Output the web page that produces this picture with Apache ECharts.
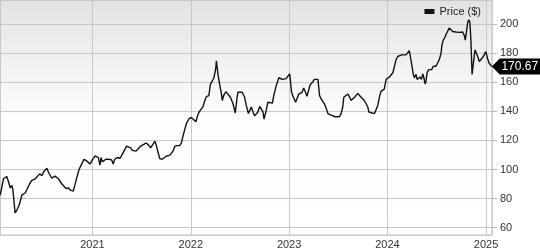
<!DOCTYPE html>
<html>
<head>
<meta charset="utf-8">
<script src="https://cdn.jsdelivr.net/npm/echarts@6/dist/echarts.min.js"></script>
<style>
html,body{margin:0;padding:0;background:#fff;}
#chart{width:540px;height:250px;}
</style>
</head>
<body>
<div id="chart"></div>
<script>
const seriesName = 'Price ($)';
const dates = [
'2020-01-25','2020-01-31','2020-02-06','2020-02-18','2020-02-25','2020-03-02','2020-03-08','2020-03-12','2020-03-20','2020-03-27',
'2020-04-02','2020-04-08','2020-04-14','2020-04-20','2020-04-27','2020-05-03','2020-05-13','2020-05-21','2020-06-03','2020-06-09',
'2020-06-19','2020-06-28','2020-07-04','2020-07-10','2020-07-16','2020-07-22','2020-08-03','2020-08-15','2020-08-28','2020-09-09',
'2020-09-15','2020-09-25','2020-10-04','2020-10-12','2020-10-22','2020-10-28','2020-11-06','2020-11-13','2020-11-22','2020-12-01',
'2020-12-11','2020-12-23','2021-01-02','2021-01-11','2021-01-17','2021-01-23','2021-01-29','2021-02-02','2021-02-07','2021-02-13',
'2021-02-20','2021-03-01','2021-03-07','2021-03-13','2021-03-19','2021-03-25','2021-04-03','2021-04-13','2021-04-19','2021-04-28',
'2021-05-08','2021-05-14','2021-05-23','2021-05-29','2021-06-05','2021-06-11','2021-06-20','2021-06-29','2021-07-09','2021-07-19',
'2021-07-27','2021-08-05','2021-08-12','2021-08-21','2021-08-27','2021-09-02','2021-09-08','2021-09-17','2021-09-24','2021-10-03',
'2021-10-09','2021-10-15','2021-10-21','2021-10-27','2021-11-03','2021-11-11','2021-11-21','2021-11-27','2021-12-06','2021-12-16',
'2021-12-26','2022-01-03','2022-01-10','2022-01-20','2022-01-25','2022-02-01','2022-02-10','2022-02-16','2022-02-22','2022-02-28',
'2022-03-09','2022-03-15','2022-03-22','2022-03-28','2022-04-04','2022-04-06','2022-04-12','2022-04-18','2022-04-25','2022-04-28',
'2022-05-03','2022-05-11','2022-05-19','2022-05-28','2022-06-07','2022-06-15','2022-06-22','2022-06-25','2022-07-01','2022-07-11',
'2022-07-20','2022-07-26','2022-08-03','2022-08-08','2022-08-14','2022-08-20','2022-08-26','2022-09-01','2022-09-07','2022-09-14',
'2022-09-20','2022-09-26','2022-09-30','2022-10-08','2022-10-14','2022-10-21','2022-10-31','2022-11-05','2022-11-14','2022-11-24',
'2022-11-30','2022-12-07','2022-12-13','2022-12-21','2022-12-28','2023-01-03','2023-01-06','2023-01-10','2023-01-17','2023-01-25',
'2023-01-30','2023-02-06','2023-02-12','2023-02-18','2023-02-24','2023-03-03','2023-03-08','2023-03-14','2023-03-20','2023-03-28',
'2023-04-05','2023-04-11','2023-04-18','2023-04-24','2023-04-30','2023-05-06','2023-05-12','2023-05-19','2023-05-25','2023-05-31',
'2023-06-06','2023-06-12','2023-06-21','2023-06-28','2023-07-07','2023-07-13','2023-07-19','2023-07-23','2023-07-29','2023-08-07',
'2023-08-13','2023-08-19','2023-08-25','2023-09-01','2023-09-07','2023-09-13','2023-09-19','2023-09-25','2023-10-01','2023-10-07',
'2023-10-14','2023-10-20','2023-10-24','2023-10-30','2023-11-05','2023-11-14','2023-11-20','2023-11-26','2023-12-02','2023-12-08',
'2023-12-14','2023-12-20','2023-12-27','2024-01-02','2024-01-08','2024-01-14','2024-01-21','2024-01-27','2024-02-02','2024-02-08',
'2024-02-14','2024-02-23','2024-03-01','2024-03-10','2024-03-17','2024-03-22','2024-03-26','2024-03-31','2024-04-06','2024-04-10',
'2024-04-16','2024-04-20','2024-04-26','2024-05-01','2024-05-06','2024-05-11','2024-05-15','2024-05-20','2024-05-23','2024-05-27',
'2024-06-02','2024-06-07','2024-06-13','2024-06-19','2024-06-23','2024-06-29','2024-07-05','2024-07-11','2024-07-18','2024-07-21',
'2024-07-26','2024-08-02','2024-08-05','2024-08-11','2024-08-17','2024-08-24','2024-08-30','2024-09-05','2024-09-11','2024-09-17',
'2024-09-24','2024-09-30','2024-10-06','2024-10-12','2024-10-16','2024-10-21','2024-10-25','2024-10-29','2024-11-02','2024-11-06',
'2024-11-10','2024-11-15','2024-11-21','2024-11-25','2024-12-01','2024-12-07','2024-12-13','2024-12-19','2024-12-25','2024-12-31',
'2025-01-06','2025-01-12','2025-01-18','2025-01-22'
];
const prices = [
82.4,81.3,93.6,95.2,91.4,87.3,89.1,85.8,70.1,72.3,
74.6,77.9,82.4,83.5,84,83.5,90.2,92.5,93.6,94.7,
97,95.8,98.5,98.1,100.8,98.1,94,95.4,93.6,90.2,
89.6,86.9,87.3,85.8,85.1,85.8,95.8,100.3,103.7,107,
105.9,103.7,107,109.3,110.4,108.2,103,108.2,105.2,105.5,
107,107,107.5,106.6,103.7,107,108.2,107.7,109.3,112.6,
116,116,114.9,113.1,114.2,112.6,114.2,116,117.1,118.2,
117.1,114.9,116,119.4,116,111.5,107.5,107,107.5,109.3,
110.4,109.7,109.3,112.6,116,116.4,116.4,118.2,125,131.7,
135,135.7,135,132.8,136.2,139.5,141.8,143.3,147.4,150,
150.7,158.6,160.8,163,169.8,174.7,165.3,158.6,151.8,147.4,
150.7,153.4,151.8,149.6,145.1,138.8,149.6,153,153.4,153,
149.6,144,138.4,140.6,142.9,139.5,136.8,136.6,139.5,143.3,
144,139.5,134.6,140.6,146.2,147.4,145.6,150.7,157.4,163,
163.7,161.9,163,162.4,163,165.7,160.8,153,149.6,146.2,
145.6,151.8,151.4,153,155.9,153,150.2,154.1,158.1,159.7,
161.9,162.4,161.9,150.7,148.5,147.4,145.1,141.8,138.4,138.4,
137.3,137.3,136.2,135,136.2,138.4,142.9,149.6,148.5,151.8,
150,147.4,148.5,149.6,150.7,152.3,151.8,149.6,148.5,147.4,
146.9,142.9,139.5,140.6,138.8,138.4,139.5,144,149.6,153.6,
154.5,155.2,161.9,162.4,163.5,164.2,166.4,170.9,175.4,177.6,
178.3,178.7,178.3,178.7,179.8,181.6,177.6,172,165.3,163,
165.3,161.9,160.8,163.5,161.9,165.7,163,158.6,160.8,166.4,
168.6,169.8,168.6,170.9,172,170.9,173.1,175.4,179.8,185.4,
188.8,191,192.6,194.8,197.1,196.2,194.8,194.4,194.4,194.6,
194.2,194.8,194.4,192.2,188.8,189.9,201.1,202.9,201.1,187.7,
165.3,173.1,182.1,183.2,177.6,174.2,175.4,176.9,178.7,181,
176.5,173.1,172,170.67
];
const xRange = ['2020-01-24', '2025-01-23'];
const yRange = [55, 216.4];
const yTickStep = 20;

const data = dates.map((d, i) => [d, prices[i]]);
const lastIdx = dates.length - 1;

const chart = echarts.init(document.getElementById('chart'), null, {renderer: 'canvas'});
const font = 'Arial, "Liberation Sans", Helvetica, sans-serif';
chart.setOption({
  animation: false,
  textStyle: {fontFamily: font},
  grid: {
    left: 0, right: 48, top: 0, bottom: 10,
    show: true,
    borderColor: '#c8c8c8', borderWidth: 1,
    backgroundColor: new echarts.graphic.LinearGradient(0, 0, 0, 1, [
      {offset: 0, color: '#e3e3e3'},
      {offset: 0.5, color: '#fdfdfd'},
      {offset: 1, color: '#ffffff'}
    ])
  },
  legend: {
    data: [seriesName],
    right: 59, top: 6, padding: 0,
    icon: 'rect', itemWidth: 10, itemHeight: 5, itemGap: 5,
    textStyle: {fontSize: 11, color: '#222', fontFamily: font}
  },
  xAxis: {
    type: 'time',
    min: xRange[0], max: xRange[1],
    splitNumber: 5,
    axisLine: {show: false},
    axisTick: {show: false},
    axisLabel: {formatter: '{yyyy}', color: '#333', fontSize: 11, margin: 4, fontFamily: font},
    splitLine: {show: true, lineStyle: {color: '#c8c8c8', width: 1}},
    minorTick: {show: false}
  },
  yAxis: {
    type: 'value',
    position: 'right',
    min: yRange[0], max: yRange[1],
    splitNumber: 8,
    axisLine: {show: false},
    axisTick: {show: true, length: 5, lineStyle: {color: '#b8b8b8'}},
    axisLabel: {
      color: '#333', fontSize: 11, margin: 8, fontFamily: font,
      showMinLabel: false, showMaxLabel: false,
      formatter: v => (Math.abs(v % yTickStep) < 1e-6 ? String(v) : '')
    },
    splitLine: {show: true, lineStyle: {color: '#c8c8c8', width: 1}}
  },
  series: [{
    name: seriesName,
    type: 'line',
    data: data,
    showSymbol: false,
    symbol: 'none',
    color: '#111',
    lineStyle: {color: '#111', width: 1.4},
    markPoint: {
      symbol: 'path://M0,8 L8,0 L50,0 L50,16 L8,16 Z',
      symbolSize: [50, 16],
      symbolKeepAspect: false,
      symbolOffset: [25, 0],
      itemStyle: {color: '#000'},
      label: {show: true, color: '#fff', fontSize: 12, fontFamily: font, offset: [3, 0],
              formatter: p => prices[lastIdx].toFixed(2)},
      data: [{coord: [dates[lastIdx], prices[lastIdx]], value: prices[lastIdx]}]
    }
  }]
});
</script>
</body>
</html>
